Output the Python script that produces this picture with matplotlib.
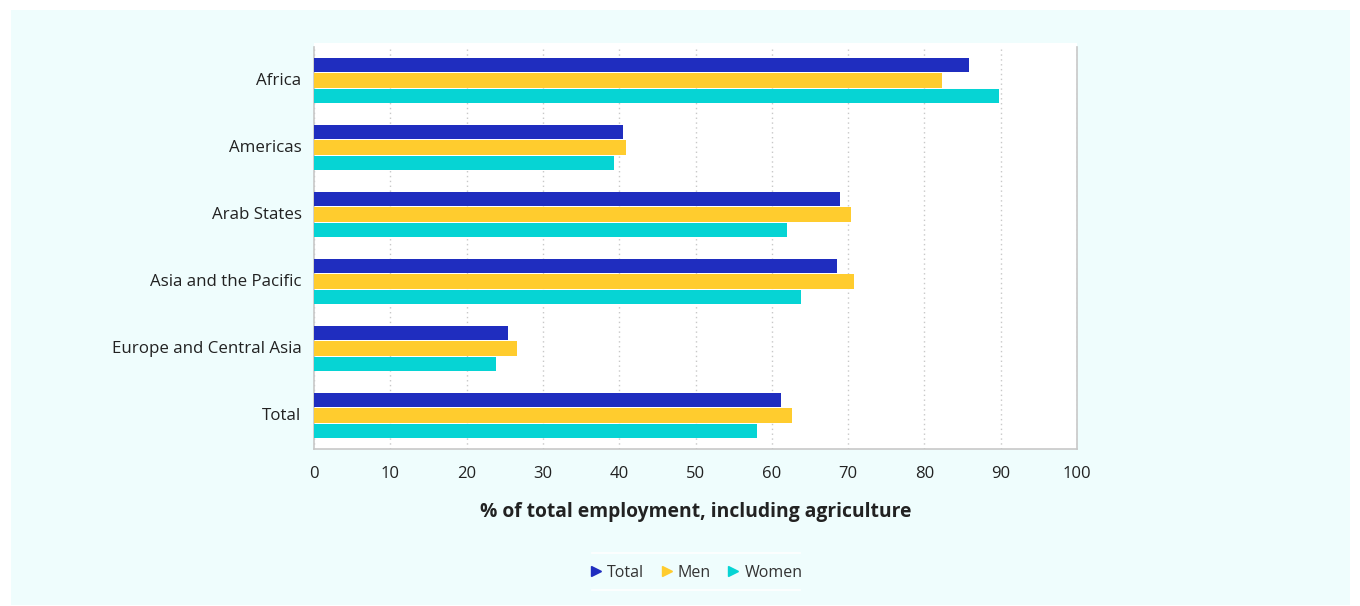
import matplotlib
matplotlib.use("Agg")
import matplotlib.pyplot as plt
import matplotlib.transforms as mtransforms
import numpy as np
from matplotlib.patches import Rectangle
from matplotlib.lines import Line2D

categories = ["Africa", "Americas", "Arab States", "Asia and the Pacific",
              "Europe and Central Asia", "Total"]
series_names = ["Total", "Men", "Women"]
total_vals = [85.8, 40.5, 68.9, 68.5, 25.4, 61.2]
men_vals = [82.3, 40.9, 70.4, 70.8, 26.6, 62.6]
women_vals = [89.8, 39.3, 62.0, 63.8, 23.9, 58.1]
xticks = [0, 10, 20, 30, 40, 50, 60, 70, 80, 90, 100]
xlabel = "% of total employment, including agriculture"

colors = ["#1f2dbf", "#ffcc2e", "#06d4d4"]
plt.rcParams['font.family'] = ['Open Sans', 'Noto Sans', 'DejaVu Sans']

fig = plt.figure(figsize=(13.6, 6.06), dpi=100)
fig.patch.set_facecolor("white")
W, H = 1360, 606
fig.patches.append(Rectangle((11 / W, 1 - 605 / H), (1350 - 11) / W, (605 - 10) / H,
                             transform=fig.transFigure, facecolor="#effdfd",
                             edgecolor="none", zorder=-10))
fig.patches.append(Rectangle((314 / W, 1 - 449 / H), (1077 - 314) / W, (449 - 43) / H,
                             transform=fig.transFigure, facecolor="white",
                             edgecolor="none", zorder=-9))

ax = fig.add_axes([314 / W, 1 - 449 / H, (1077 - 314) / W, (449 - 47) / H])
ax.set_facecolor("white")

y = np.arange(len(categories))
bh = 0.209
step = 0.231
for i, (vals, c) in enumerate(zip([total_vals, men_vals, women_vals], colors)):
    ax.barh(y + (i - 1) * step, vals, height=bh, color=c, zorder=3)

ax.set_xlim(0, 100)
ax.set_ylim(len(categories) - 0.5, -0.5)
ax.set_xticks(xticks)
ax.set_xticklabels([str(t) for t in xticks], fontsize=12, color="#222222")
ax.set_yticks(y)
ax.set_yticklabels(categories, fontsize=12.2, color="#222222")
ax.tick_params(axis="both", length=0)
ax.tick_params(axis="x", pad=12)
ax.tick_params(axis="y", pad=9)
offset = mtransforms.ScaledTranslation(0, 1.5 / 100, fig.dpi_scale_trans)
for lbl in ax.get_yticklabels():
    lbl.set_transform(lbl.get_transform() + offset)
ax.grid(axis="x", linestyle=(0, (1, 2.5)), color="#c8c8c8", linewidth=1, zorder=0)
for s in ["left", "bottom", "right"]:
    ax.spines[s].set_color("#c8c8c8")
    ax.spines[s].set_linewidth(1.2)
ax.spines["top"].set_visible(False)
ax.set_xlabel(xlabel, fontsize=13.9, fontweight="bold", color="#222222", labelpad=14.5)

# legend
handles = [Line2D([], [], marker=">", linestyle="none", color=c, markersize=7)
           for c in colors]
leg = fig.legend(handles, series_names, loc="center", bbox_to_anchor=(696 / W, 1 - 573 / H),
                 ncol=3, frameon=False, fontsize=11.5, handletextpad=0.3,
                 columnspacing=1.0, handlelength=0.8, labelcolor="#333333")
for yy in (553, 590):
    fig.add_artist(Line2D([592 / W, 800 / W], [1 - yy / H, 1 - yy / H],
                          transform=fig.transFigure, color="white", linewidth=1.2))

fig.savefig("out.png", dpi=100, facecolor=fig.get_facecolor())
